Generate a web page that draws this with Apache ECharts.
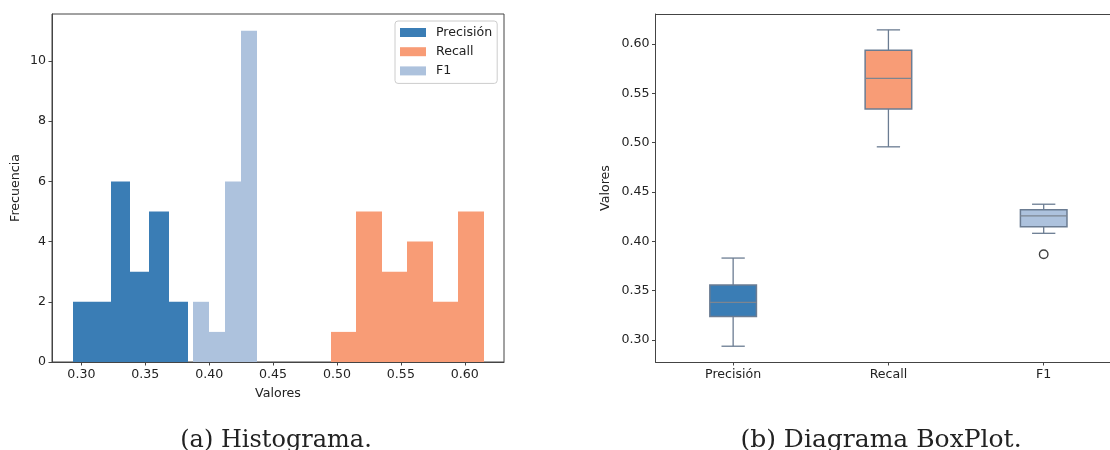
<!DOCTYPE html>
<html>

<head>
    <meta charset="utf-8">
    <title>Histograma y BoxPlot</title>
    <script type="text/javascript" src="https://cdn.jsdelivr.net/npm/echarts@6/dist/echarts.min.js"></script>
    <style>
        body {
            margin: 0;
            background: #fff;
        }

        #app {
            width: 1110px;
            height: 450px;
        }
    </style>
</head>

<body>
    <div id="app"></div>
</body>
<script type="text/javascript">
    // histograma: bordes de los bins y frecuencias
    var precisionEdges = [0.2933, 0.3082, 0.3232, 0.3382, 0.3532, 0.3682, 0.3832];
    var precisionCounts = [2, 2, 6, 3, 5, 2];
    var recallEdges = [0.4954, 0.5152, 0.5353, 0.5548, 0.5748, 0.5947, 0.6150];
    var recallCounts = [1, 5, 3, 4, 2, 5];
    var f1Edges = [0.3871, 0.3999, 0.4124, 0.4250, 0.4377];
    var f1Counts = [2, 1, 6, 11];

    var histXTicks = [0.30, 0.35, 0.40, 0.45, 0.50, 0.55, 0.60];
    var histYTicks = [0, 2, 4, 6, 8, 10];

    // boxplot (posiciones 1, 2, 3)
    var boxNames = ['Precisión', 'Recall', 'F1'];
    var boxPos = [1, 2, 3];
    var boxLow = [0.2936, 0.4958, 0.4081];
    var boxQ1 = [0.3238, 0.5341, 0.4148];
    var boxMedian = [0.3380, 0.5653, 0.4257];
    var boxQ3 = [0.3556, 0.5937, 0.4321];
    var boxHigh = [0.3830, 0.6144, 0.4376];
    var outliers = [[3, 0.3868]];
    var boxYTicks = [0.30, 0.35, 0.40, 0.45, 0.50, 0.55, 0.60];

    var colors = ['#3a7db5', '#f89c76', '#adc2dd'];
    var edgeColor = '#6b7c92';
    var textColor = '#222';
    var axisColor = '#444';
    var font = 'DejaVu Sans';
    var fs = 12.6;

    function bins(edges, counts) {
        var out = [];
        for (var i = 0; i < counts.length; i++) {
            out.push([edges[i], edges[i + 1], counts[i]]);
        }
        return out;
    }

    function renderHist(params, api) {
        var a = api.coord([api.value(0), 0]);
        var b = api.coord([api.value(1), api.value(2)]);
        // bordes en pixel entero para que los bins contiguos no dejen rayas
        var x0 = Math.round(a[0]), x1 = Math.round(b[0]);
        return {
            type: 'rect',
            shape: { x: x0, y: b[1], width: x1 - x0, height: a[1] - b[1] },
            style: { fill: api.visual('color') }
        };
    }

    function renderBox(params, api) {
        var p = api.value(0);
        var low = api.coord([p, api.value(1)]);
        var q1 = api.coord([p, api.value(2)]);
        var med = api.coord([p, api.value(3)]);
        var q3 = api.coord([p, api.value(4)]);
        var high = api.coord([p, api.value(5)]);
        var w = api.size([1, 0])[0] * 0.3;
        var x = low[0];
        var line = { stroke: edgeColor, lineWidth: 1.3 };
        return {
            type: 'group',
            children: [
                { type: 'line', shape: { x1: x, y1: low[1], x2: x, y2: q1[1] }, style: line },
                { type: 'line', shape: { x1: x, y1: q3[1], x2: x, y2: high[1] }, style: line },
                { type: 'line', shape: { x1: x - w / 4, y1: low[1], x2: x + w / 4, y2: low[1] }, style: line },
                { type: 'line', shape: { x1: x - w / 4, y1: high[1], x2: x + w / 4, y2: high[1] }, style: line },
                {
                    type: 'rect',
                    shape: { x: x - w / 2, y: q3[1], width: w, height: q1[1] - q3[1] },
                    style: { fill: colors[params.dataIndex], stroke: edgeColor, lineWidth: 1.5 }
                },
                { type: 'line', shape: { x1: x - w / 2, y1: med[1], x2: x + w / 2, y2: med[1] }, style: { stroke: '#7d8590', lineWidth: 1.3 } }
            ]
        };
    }

    var boxData = [];
    for (var i = 0; i < boxNames.length; i++) {
        boxData.push([boxPos[i], boxLow[i], boxQ1[i], boxMedian[i], boxQ3[i], boxHigh[i]]);
    }

    var labelStyle = { color: textColor, fontFamily: font, fontSize: fs };
    var nameStyle = { color: textColor, fontFamily: font, fontSize: fs };

    var option = {
        animation: false,
        textStyle: { fontFamily: font },
        legend: {
            orient: 'vertical',
            left: 395,
            top: 21,
            padding: [5, 5, 6, 5],
            itemGap: 6.2,
            itemWidth: 26,
            itemHeight: 9,
            icon: 'rect',
            borderColor: '#ccc',
            borderWidth: 1,
            borderRadius: 3,
            backgroundColor: 'rgba(255,255,255,0.8)',
            textStyle: { color: textColor, fontFamily: font, fontSize: fs, padding: [0, 0, 0, 5] },
            data: ['Precisión', 'Recall', 'F1']
        },
        grid: [
            { left: 52, top: 14, width: 452, height: 348, show: true, borderColor: axisColor, borderWidth: 1 },
            { left: 655.5, top: 14, right: 0, height: 348 }
        ],
        xAxis: [{
            gridIndex: 0,
            type: 'value',
            min: 0.277,
            max: 0.6307,
            name: 'Valores',
            nameLocation: 'middle',
            nameGap: 25,
            nameTextStyle: nameStyle,
            splitLine: { show: false },
            axisLine: { show: true, lineStyle: { color: axisColor } },
            axisTick: { show: true, length: 3.5, customValues: histXTicks, lineStyle: { color: axisColor } },
            axisLabel: Object.assign({ margin: 6, customValues: histXTicks, formatter: function (v) { return v.toFixed(2); } }, labelStyle)
        }, {
            gridIndex: 1,
            type: 'value',
            min: 0.5,
            max: 3.427,
            splitLine: { show: false },
            axisLine: { show: true, lineStyle: { color: axisColor } },
            axisTick: { show: true, length: 3.5, customValues: boxPos, lineStyle: { color: axisColor } },
            axisLabel: Object.assign({ margin: 6, customValues: boxPos, formatter: function (v) { return boxNames[Math.round(v) - 1]; } }, labelStyle)
        }, {
            // borde superior del segundo panel
            gridIndex: 1,
            type: 'value',
            position: 'top',
            min: 0.5,
            max: 3.427,
            splitLine: { show: false },
            axisLine: { show: true, lineStyle: { color: axisColor } },
            axisTick: { show: false },
            axisLabel: { show: false }
        }],
        yAxis: [{
            gridIndex: 0,
            type: 'value',
            min: 0,
            max: 11.56,
            name: 'Frecuencia',
            nameLocation: 'middle',
            nameGap: 30,
            nameTextStyle: nameStyle,
            splitLine: { show: false },
            axisLine: { show: true, lineStyle: { color: axisColor } },
            axisTick: { show: true, length: 3.5, customValues: histYTicks, lineStyle: { color: axisColor } },
            axisLabel: Object.assign({ margin: 6, customValues: histYTicks }, labelStyle)
        }, {
            gridIndex: 1,
            type: 'value',
            min: 0.2776,
            max: 0.6305,
            name: 'Valores',
            nameLocation: 'middle',
            nameGap: 43,
            nameTextStyle: nameStyle,
            splitLine: { show: false },
            axisLine: { show: true, lineStyle: { color: axisColor } },
            axisTick: { show: true, length: 3.5, customValues: boxYTicks, lineStyle: { color: axisColor } },
            axisLabel: Object.assign({ margin: 6, customValues: boxYTicks, formatter: function (v) { return v.toFixed(2); } }, labelStyle)
        }],
        series: [{
            name: 'Precisión',
            type: 'custom',
            xAxisIndex: 0,
            yAxisIndex: 0,
            itemStyle: { color: colors[0] },
            renderItem: renderHist,
            encode: { x: [0, 1], y: 2 },
            data: bins(precisionEdges, precisionCounts)
        }, {
            name: 'Recall',
            type: 'custom',
            xAxisIndex: 0,
            yAxisIndex: 0,
            itemStyle: { color: colors[1] },
            renderItem: renderHist,
            encode: { x: [0, 1], y: 2 },
            data: bins(recallEdges, recallCounts)
        }, {
            name: 'F1',
            type: 'custom',
            xAxisIndex: 0,
            yAxisIndex: 0,
            itemStyle: { color: colors[2] },
            renderItem: renderHist,
            encode: { x: [0, 1], y: 2 },
            data: bins(f1Edges, f1Counts)
        }, {
            name: 'box',
            type: 'custom',
            xAxisIndex: 1,
            yAxisIndex: 1,
            renderItem: renderBox,
            encode: { x: 0, y: [1, 2, 3, 4, 5] },
            data: boxData
        }, {
            name: 'outliers',
            type: 'scatter',
            xAxisIndex: 1,
            yAxisIndex: 1,
            symbol: 'circle',
            symbolSize: 8.5,
            itemStyle: { color: '#fff', borderColor: '#111', borderWidth: 1.4 },
            data: outliers
        }],
        graphic: [{
            type: 'text',
            x: 276,
            y: 440.5,
            style: { text: '(a) Histograma.', font: '24px "DejaVu Serif"', fill: '#222', align: 'center', verticalAlign: 'middle' }
        }, {
            type: 'text',
            x: 881,
            y: 440.5,
            style: { text: '(b) Diagrama BoxPlot.', font: '25px "DejaVu Serif"', fill: '#222', align: 'center', verticalAlign: 'middle' }
        }]
    };

    var myChart = echarts.init(document.getElementById('app'));
    myChart.setOption(option);
</script>

</html>
